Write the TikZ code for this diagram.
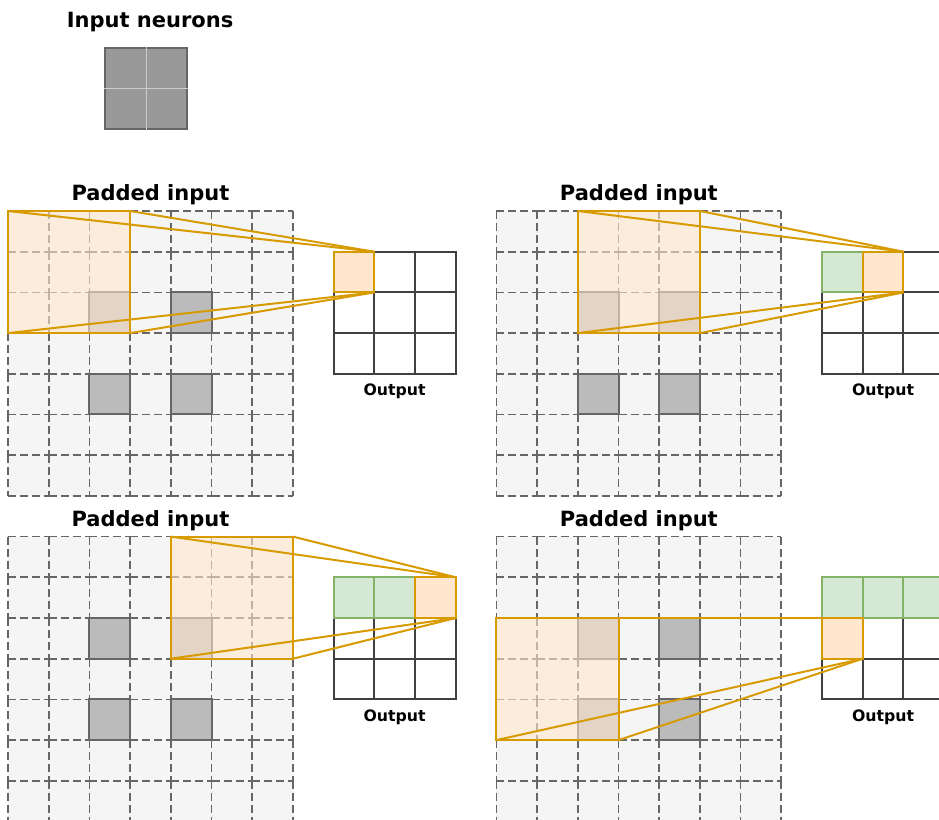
\documentclass[tikz,border=0pt]{standalone}
\usepackage{fontspec}
\setmainfont{DejaVu Sans}
\usetikzlibrary{positioning}

\definecolor{padfill}{HTML}{F5F5F5}
\definecolor{padline}{HTML}{666666}
\definecolor{hidfill}{HTML}{BBBBBB}
\definecolor{winfill}{HTML}{FFE6CC}
\definecolor{winline}{HTML}{D79B00}
\definecolor{donefill}{HTML}{D5E8D4}
\definecolor{doneline}{HTML}{82B366}
\definecolor{outgrid}{HTML}{404040}

\tikzset{
    padcell/.style={fill=padfill},
    padedge/.style={draw=padline, line width=1.3pt, dash pattern=on 6pt off 3pt},
    hidcell/.style={draw=padline, fill=hidfill, line width=1.5pt},
    outcell/.style={draw=outgrid, fill=white, line width=1.5pt},
    donecell/.style={draw=doneline, fill=donefill, line width=1.5pt},
    actcell/.style={draw=winline, fill=winfill, line width=1.5pt, inner sep=0pt, outer sep=0pt, minimum size=30.525pt},
    window/.style={draw=winline, fill=winfill, fill opacity=0.6, line width=1.5pt, inner sep=0pt, outer sep=0pt, minimum size=91.575pt},
    proj/.style={draw=winline, line width=1.5pt},
    paneltitle/.style={anchor=base, font=\bfseries\fontsize{15.75}{18}\selectfont},
    outlabel/.style={anchor=base, font=\bfseries\fontsize{11.8}{14}\selectfont}
}

% 7x7 padded input with its 2x2 neurons, plus the empty 3x3 output
\newcommand{\padgrid}{%
    \fill[padcell] (0,0) rectangle (7,-7);
    \foreach \j in {0,...,7}
        \foreach \i in {0,...,6}
            \draw[padedge] (\i,-\j) -- ++(1,0);
    \foreach \i in {0,...,7}
        \foreach \j in {0,...,6}
            \draw[padedge] (\i,-\j) -- ++(0,-1);
    \foreach \i/\j in {2/3,4/3,2/5,4/5}
        \draw[hidcell] (\i,-\j) rectangle ++(1,1);
    \foreach \i in {0,1,2}
        \foreach \j in {2,3,4}
            \draw[outcell] (8+\i,-\j) rectangle ++(1,1);
    \node[paneltitle] at (3.5,0.25) {Padded input};
    \node[outlabel] at (9.5,-4.54) {Output};
}

\begin{document}
\begin{tikzpicture}[x=30.525pt, y=30.525pt]
    \useasboundingbox (-6pt,158.25pt) rectangle (698.25pt,-456.75pt);

    % Input neurons
    \node[paneltitle] (inlabel) at (3.49,4.52) {Input neurons};
    \node[draw=padline, fill=black!40, line width=1.5pt, inner sep=0pt, minimum size=61.05pt] (inp) at (3.39,3.01) {};
    \draw[black!20, line width=0.7pt] (inp.north) -- (inp.south);
    \draw[black!20, line width=0.7pt] (inp.west) -- (inp.east);

    % Step 1: window at the top left corner
    \begin{scope}
        \padgrid
        \node[window] (win1) at (1.5,-1.5) {};
        \node[actcell] (act1) at (8.5,-1.5) {};
        \draw[proj] (win1.north west) -- (act1.north east);
        \draw[proj] (win1.north east) -- (act1.north east);
        \draw[proj] (win1.south west) -- (act1.south east);
        \draw[proj] (win1.south east) -- (act1.south east);
    \end{scope}

    % Step 2: window moved by the stride
    \begin{scope}[shift={(12,0)}]
        \padgrid
        \node[window] (win2) at (3.5,-1.5) {};
        \draw[donecell] (8,-2) rectangle ++(1,1);
        \node[actcell] (act2) at (9.5,-1.5) {};
        \draw[proj] (win2.north west) -- (act2.north east);
        \draw[proj] (win2.north east) -- (act2.north east);
        \draw[proj] (win2.south west) -- (act2.south east);
        \draw[proj] (win2.south east) -- (act2.south east);
    \end{scope}

    % Step 3: end of the first row
    \begin{scope}[shift={(0,-8)}]
        \padgrid
        \node[window] (win3) at (5.5,-1.5) {};
        \foreach \i in {0,1}
            \draw[donecell] (8+\i,-2) rectangle ++(1,1);
        \node[actcell] (act3) at (10.5,-1.5) {};
        \draw[proj] (win3.north west) -- (act3.north east);
        \draw[proj] (win3.north east) -- (act3.north east);
        \draw[proj] (win3.south west) -- (act3.south east);
        \draw[proj] (win3.south east) -- (act3.south east);
    \end{scope}

    % Step 4: next row
    \begin{scope}[shift={(12,-8)}]
        \padgrid
        \node[window] (win4) at (1.5,-3.5) {};
        \foreach \i in {0,1,2}
            \draw[donecell] (8+\i,-2) rectangle ++(1,1);
        \node[actcell] (act4) at (8.5,-2.5) {};
        \draw[proj] (win4.north west) -- (act4.north east);
        \draw[proj] (win4.north east) -- (act4.north east);
        \draw[proj] (win4.south west) -- (act4.south east);
        \draw[proj] (win4.south east) -- (act4.south east);
    \end{scope}
\end{tikzpicture}
\end{document}
